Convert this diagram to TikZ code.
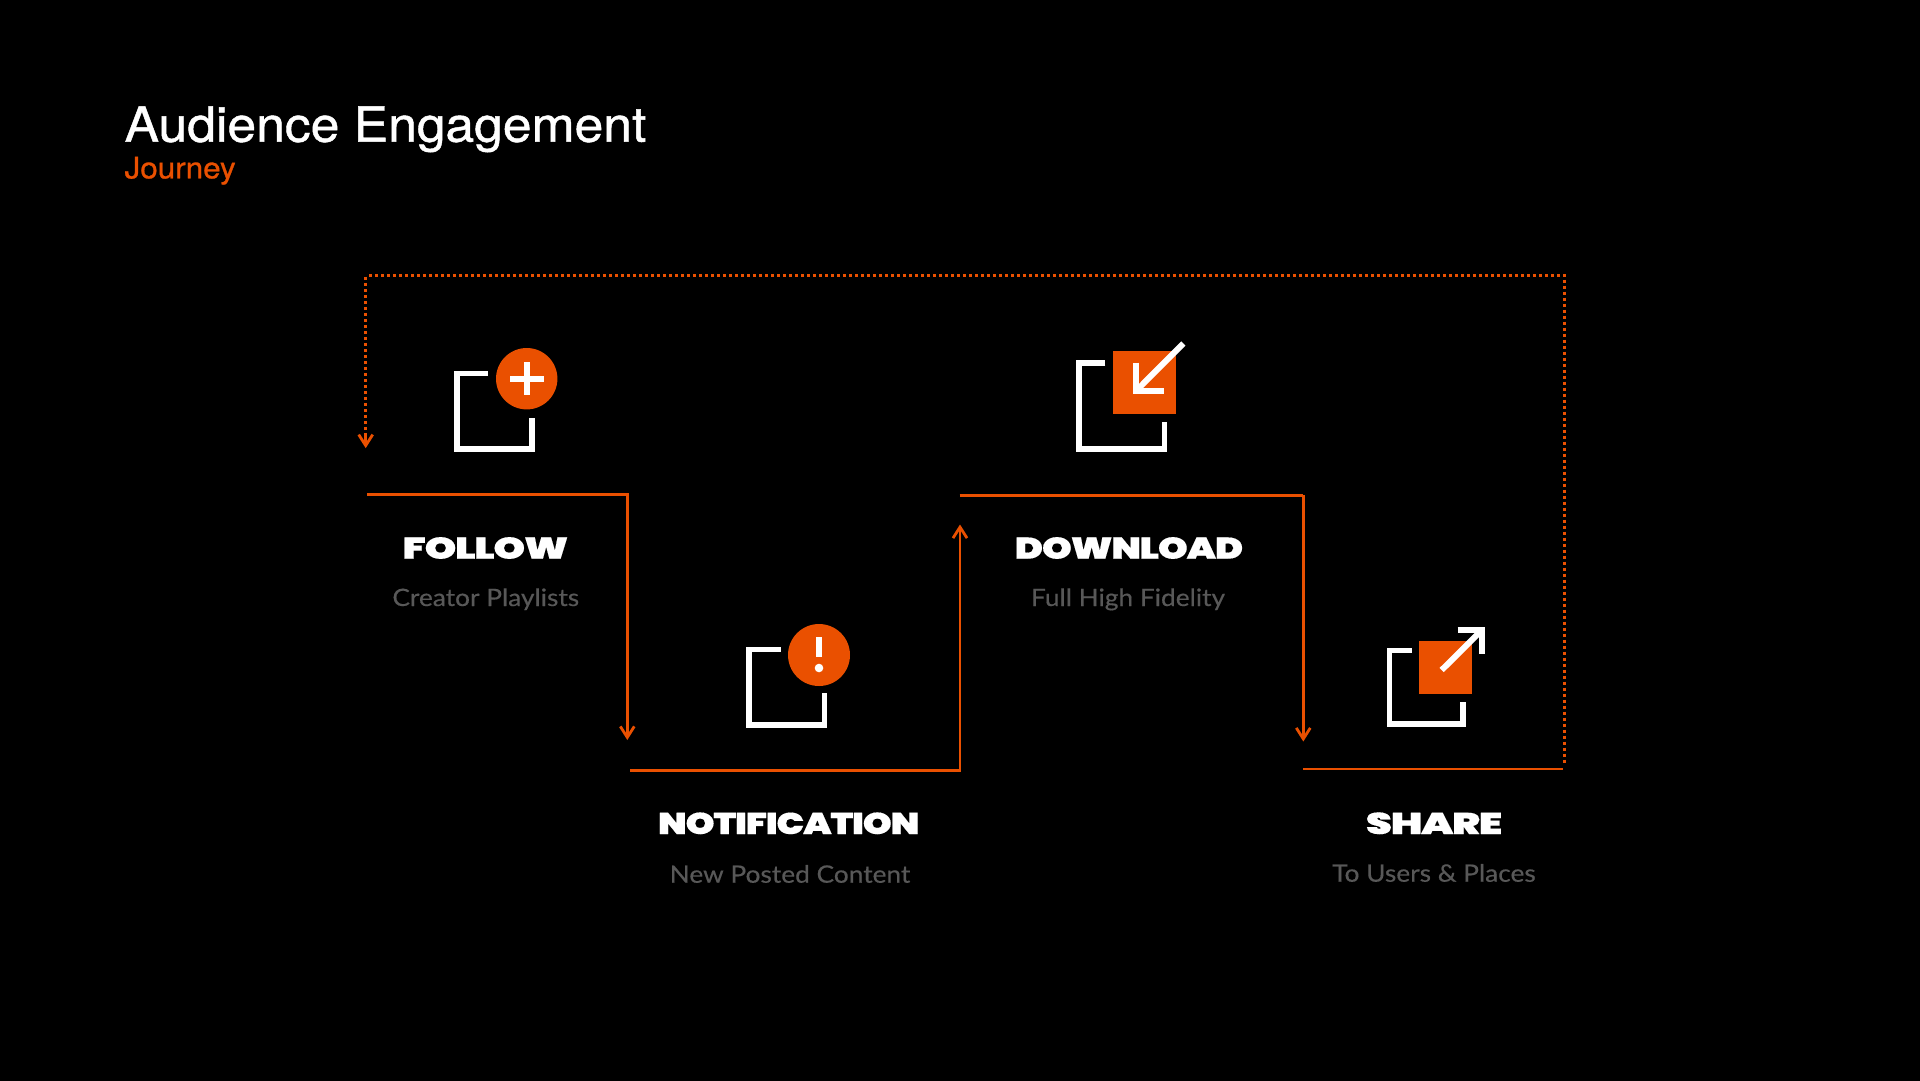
\documentclass[tikz,border=0pt]{standalone}
\usepackage{fontspec}
\usetikzlibrary{arrows.meta}
\setmainfont{Liberation Sans}
\newfontfamily\titlefont[FakeStretch=1.065,FakeBold=0.9]{TeX Gyre Heros}
\newfontfamily\headfont[FakeStretch=1.3,LetterSpace=-4,FakeBold=0.3]{Poppins Black}
\newfontfamily\subfont[FakeStretch=1.095,FakeBold=0.4]{Lato}
\definecolor{accent}{HTML}{EA5000}
\definecolor{subgrey}{HTML}{585858}
\newcommand{\headfit}[2]{\resizebox{#1pt}{21.6pt}{#2}}
\tikzset{
  flow/.style={draw=accent,line width=2.8pt,line cap=butt,line join=miter},
  flowarrow/.style={flow,-{Straight Barb[length=11pt,width=14pt,line width=2.8pt]}},
  loopline/.style={draw=accent,line width=3.1pt,dash pattern=on 3pt off 3pt,line cap=butt},
  bracket/.style={draw=white,line width=5.6pt,line join=miter,line cap=butt},
  glyph/.style={draw=white,line width=6pt,line join=miter,line cap=butt},
  badge/.style={fill=accent,draw=none},
  head/.style={anchor=base,text=white,inner sep=0pt,outer sep=0pt,font=\headfont\fontsize{29}{29}\selectfont},
  sub/.style={anchor=base,text=subgrey,inner sep=0pt,outer sep=0pt,font=\subfont\fontsize{24}{24}\selectfont},
}
\begin{document}
\begin{tikzpicture}[x=1pt,y=-1pt]
\useasboundingbox (0,0) rectangle (1920,1080);
\fill[black] (-5,-5) rectangle (1925,1085);
% title
\node[anchor=base west,inner sep=0pt,text=white,font=\titlefont\fontsize{48.5}{48.5}\selectfont] (title) at (124.4,141.7) {Audience Engagement};
\node[anchor=base west,inner sep=0pt,text=accent,font=\titlefont\fontsize{29.5}{29.5}\selectfont] (subtitle) at (124.4,178.3) {Journey};
% connector points
\coordinate (followL) at (367.3,494.3);
\coordinate (followR) at (627.3,494.3);
\coordinate (notifyT) at (627.3,740);
\coordinate (notifyL) at (630,770.3);
\coordinate (notifyR) at (960,770.3);
\coordinate (downA) at (960,524.5);
\coordinate (downL) at (959.5,495.3);
\coordinate (downR) at (1303.3,495.3);
\coordinate (shareT) at (1303.3,741.5);
\coordinate (shareL) at (1303,769);
\coordinate (shareR) at (1563,769);
\coordinate (loopS) at (1564.3,762.5);
\coordinate (loopRT) at (1564.3,279.5);
\coordinate (loopTR) at (1565.5,275.7);
\coordinate (loopTL) at (367.8,275.7);
\coordinate (loopLT) at (365.7,276.8);
\coordinate (loopLB) at (365.7,436);
\coordinate (loopE) at (365.7,448.2);
% connectors
\draw[flowarrow] (followL) -- (followR) -- (notifyT);
\draw[flowarrow] (notifyL) -- (notifyR) -- (downA);
\draw[flow] (downL) -- (downR);
\draw[flowarrow] (downR) -- (shareT);
\draw[flow] (shareL) -- (shareR);
\draw[loopline] (loopRT) -- (loopS);
\draw[loopline] (loopTR) -- (loopTL);
\draw[loopline] (loopLT) -- (loopLB);
\draw[flowarrow] (loopLB) -- (loopE);
% FOLLOW icon
\draw[bracket] (487.7,373.5) -- (456.8,373.5) -- (456.8,448.9) -- (532.2,448.9) -- (532.2,417.7);
\fill[badge] (526.7,378.7) circle (30.7);
\draw[glyph,line width=6.4pt] (510,378.7) -- (544,378.7) (526.7,362.3) -- (526.7,395);
% NOTIFICATION icon
\draw[bracket] (780.7,649.5) -- (748.8,649.5) -- (748.8,724.9) -- (824.5,724.9) -- (824.5,693.3);
\fill[badge] (819,655) circle (31);
\fill[white] (816,636.7) rectangle (822.3,656.7);
\fill[white] (819,668) circle (4.3);
% DOWNLOAD icon
\draw[bracket] (1105.3,362.8) -- (1078.8,362.8) -- (1078.8,448.9) -- (1164.5,448.9) -- (1164.5,422.3);
\fill[badge] (1113.3,351) rectangle (1175.7,414.3);
\draw[glyph] (1136,362.7) -- (1136,391) -- (1164.3,391);
\draw[glyph] (1136,391) -- (1183.3,343.5);
% SHARE icon
\draw[bracket] (1411.7,650.5) -- (1389.5,650.5) -- (1389.5,724.2) -- (1462.9,724.2) -- (1462.9,701.7);
\fill[badge] (1419.3,641) rectangle (1472,693.7);
\draw[glyph] (1457.7,629.7) -- (1482.3,629.7) -- (1482.3,654.3);
\draw[glyph] (1482.3,629.7) -- (1441.7,670);
% labels
\node[head] (followH) at (485.5,558.7) {\headfit{165.6}{FOLLOW}};
\node[sub] (followS) at (485.8,606) {Creator Playlists};
\node[head] (notifyH) at (788.7,834) {\headfit{261.3}{NOTIFICATION}};
\node[sub] (notifyS) at (790,882.7) {New Posted Content};
\node[head] (downH) at (1129,558.7) {\headfit{228.3}{DOWNLOAD}};
\node[sub] (downS) at (1128,606) {Full High Fidelity};
\node[head] (shareH) at (1434,834) {\headfit{136.3}{SHARE}};
\node[sub] (shareS) at (1434,881.7) {To Users \& Places};
\end{tikzpicture}
\end{document}
